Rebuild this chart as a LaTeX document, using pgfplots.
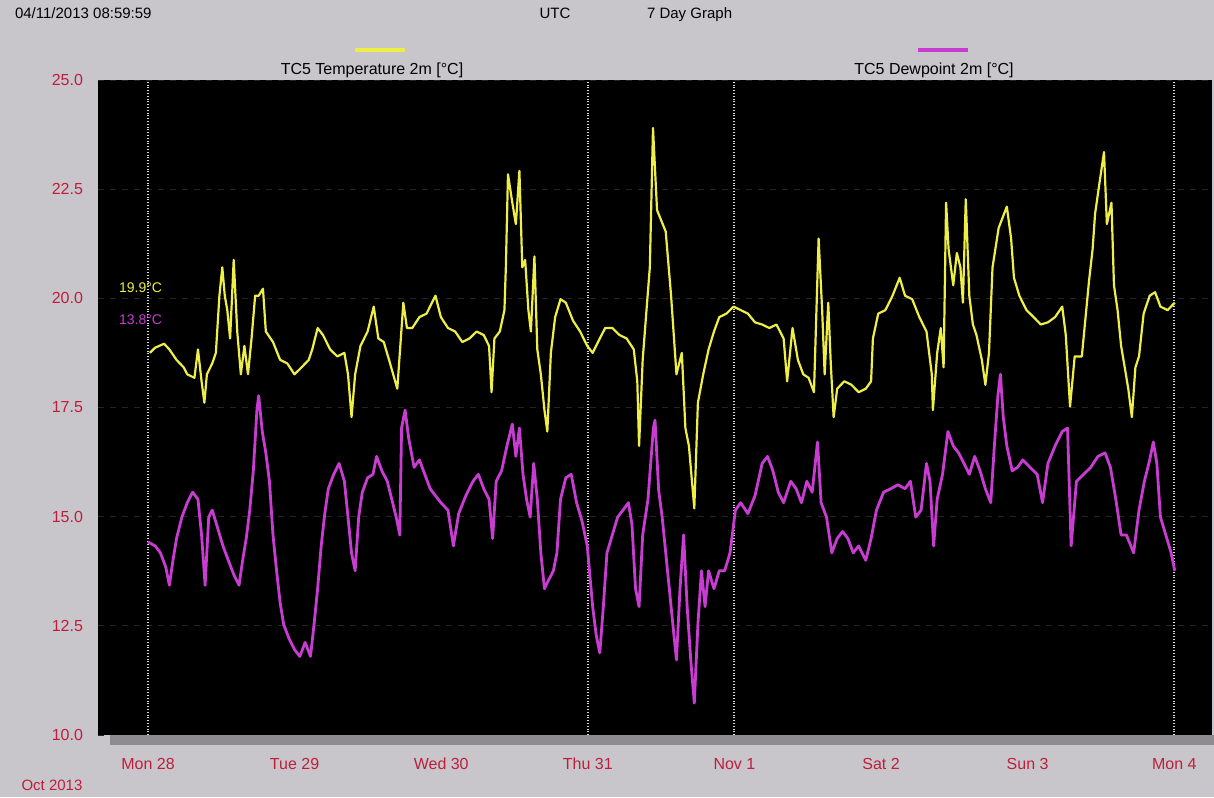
\documentclass[border=0pt]{standalone}
\usepackage{pgfplots}
\usepackage{pgfplotstable}
\pgfplotsset{compat=1.18}
\usepackage{fontspec}
\setmainfont{Liberation Sans}
\definecolor{bg}{RGB}{201,198,203}
\definecolor{tlab}{RGB}{190,30,60}
\definecolor{yel}{RGB}{238,238,70}
\definecolor{mag}{RGB}{200,60,210}
\definecolor{barg}{RGB}{140,140,145}

% hours since Mon 28 Oct 2013 00:00, temperature in C
\pgfplotstableread{
h v
0.29 18.75
1.17 18.87
2.63 18.96
3.50 18.83
4.67 18.59
5.84 18.42
6.43 18.26
7.60 18.18
8.18 18.83
8.77 18.10
9.23 17.61
9.64 18.26
10.52 18.51
11.11 18.75
11.69 20.06
12.16 20.71
12.57 20.06
12.98 19.73
13.44 19.08
14.03 20.88
14.61 19.24
15.20 18.26
15.78 18.91
16.37 18.26
16.95 19.08
17.54 20.06
18.12 20.06
18.82 20.22
19.29 19.24
20.46 19.00
21.63 18.59
22.80 18.51
23.97 18.26
25.14 18.42
26.31 18.59
26.89 18.83
27.77 19.32
28.65 19.16
29.82 18.83
30.98 18.67
32.15 18.75
32.74 18.26
33.32 17.28
33.91 18.26
34.78 18.91
35.95 19.24
36.95 19.81
37.71 19.08
38.59 19.00
39.46 18.59
40.81 17.93
41.39 19.08
41.80 19.90
42.39 19.32
43.26 19.32
44.43 19.57
45.60 19.65
47.06 20.06
47.94 19.57
49.11 19.32
50.28 19.24
51.45 19.00
52.62 19.08
53.79 19.24
54.96 19.16
55.83 18.91
56.24 17.85
56.71 19.08
57.59 19.24
58.35 19.73
58.58 20.71
58.93 22.84
59.64 22.19
60.22 21.70
60.80 22.92
61.27 20.71
61.74 20.88
62.27 19.73
62.68 19.24
63.26 20.96
63.73 18.83
64.31 18.26
64.90 17.44
65.37 16.95
65.95 18.75
66.65 19.57
67.53 19.98
68.40 19.90
69.57 19.49
70.74 19.24
71.91 18.91
72.79 18.75
73.67 19.00
74.84 19.32
76.01 19.32
77.18 19.16
78.35 19.08
79.52 18.83
80.10 18.10
80.39 16.62
80.98 18.59
81.56 19.65
82.15 20.71
82.67 23.90
83.33 22.02
84.75 21.53
85.63 20.06
86.51 18.26
87.39 18.75
87.97 17.03
88.55 16.62
89.43 15.19
90.02 17.61
90.89 18.26
91.77 18.83
92.65 19.24
93.52 19.57
94.69 19.65
95.86 19.81
97.03 19.73
98.20 19.65
99.37 19.45
100.54 19.40
101.71 19.32
102.88 19.40
104.05 19.08
104.63 18.10
105.51 19.32
106.39 18.59
107.27 18.26
108.14 18.18
109.02 17.85
109.78 21.37
110.36 19.73
110.77 18.26
111.36 19.90
111.77 18.51
112.24 17.28
112.82 17.93
113.99 18.10
115.16 18.02
116.33 17.85
117.50 17.93
118.37 18.10
118.67 19.08
119.54 19.65
120.71 19.73
121.88 20.06
123.05 20.47
123.93 20.06
125.10 19.98
126.27 19.57
127.44 19.24
128.31 18.26
128.49 17.44
129.19 18.75
129.78 19.32
130.24 18.42
130.65 22.19
131.06 21.12
131.82 20.30
132.41 21.04
132.99 20.71
133.40 19.90
133.87 22.27
134.45 20.06
135.04 19.40
135.62 19.16
136.50 18.59
137.08 18.02
137.67 18.75
138.25 20.71
139.25 21.61
140.59 22.10
141.29 21.37
141.76 20.47
142.64 20.06
143.81 19.73
144.98 19.57
146.15 19.40
147.32 19.45
148.49 19.57
149.66 19.81
150.24 19.16
150.94 17.52
151.70 18.67
152.87 18.67
154.04 20.39
154.63 21.12
155.04 21.94
155.80 22.68
156.50 23.35
156.97 21.70
157.72 22.19
158.13 20.30
158.72 19.73
159.30 18.91
159.89 18.42
160.47 17.93
161.06 17.28
161.64 18.42
162.23 18.67
162.99 19.65
163.98 20.06
164.86 20.14
165.74 19.81
166.91 19.73
168.08 19.90
}\temptable

\pgfplotstableread{
h v
0.00 14.42
1.17 14.33
2.04 14.17
2.92 13.84
3.50 13.43
4.09 14.00
4.67 14.50
5.55 14.99
6.43 15.32
7.30 15.56
8.18 15.40
8.77 14.58
9.35 13.43
9.94 14.99
10.52 15.15
11.40 14.74
12.27 14.33
13.15 14.00
14.03 13.68
14.91 13.43
15.49 14.00
16.08 14.50
16.66 15.15
17.24 16.05
17.83 17.44
18.12 17.77
18.71 16.95
19.29 16.46
19.88 15.81
20.46 14.58
21.05 13.76
21.63 13.03
22.21 12.53
23.09 12.21
23.97 11.96
24.85 11.80
25.72 12.12
26.60 11.80
27.18 12.53
27.77 13.35
28.35 14.33
28.94 15.07
29.52 15.64
30.40 15.97
31.28 16.22
32.15 15.81
32.74 14.99
33.32 14.17
33.91 13.76
34.49 14.99
35.08 15.56
35.95 15.89
36.83 15.97
37.42 16.38
38.29 16.05
39.17 15.81
39.76 15.48
40.63 14.99
41.22 14.58
41.51 17.03
42.09 17.44
42.68 16.79
43.56 16.13
44.43 16.30
45.31 15.97
46.19 15.64
47.06 15.48
47.94 15.32
49.11 15.15
49.99 14.33
50.86 15.07
52.03 15.48
53.20 15.81
54.08 15.97
54.96 15.64
55.83 15.40
56.42 14.50
57.00 15.81
57.88 16.05
58.76 16.62
59.64 17.12
60.22 16.38
60.80 17.03
61.39 15.97
61.97 15.40
62.56 14.99
63.14 16.22
63.73 15.40
64.31 14.17
64.90 13.35
65.48 13.52
66.36 13.76
66.94 14.17
67.53 15.40
68.40 15.89
69.28 15.97
70.16 15.32
71.03 14.91
71.91 14.33
72.79 12.94
73.37 12.29
73.96 11.88
74.54 12.94
75.13 14.17
76.01 14.58
76.88 14.99
77.76 15.15
78.64 15.32
79.22 14.83
79.81 13.35
80.39 12.94
80.98 14.58
81.85 15.40
82.73 17.03
83.00 17.21
83.60 15.60
84.17 14.99
85.34 13.35
85.92 12.53
86.51 11.72
87.09 13.35
87.68 14.58
88.26 12.94
88.85 11.72
89.43 10.73
90.02 12.53
90.60 13.76
91.19 12.94
91.77 13.76
92.65 13.35
93.52 13.76
94.40 13.76
95.28 14.17
96.16 15.15
97.03 15.32
98.20 15.07
99.37 15.48
100.54 16.22
101.42 16.38
102.30 16.05
103.17 15.56
104.05 15.32
105.22 15.81
106.10 15.64
106.97 15.32
107.85 15.81
108.73 15.56
109.60 16.71
110.19 15.32
111.07 14.99
111.94 14.17
112.82 14.50
113.70 14.66
114.57 14.50
115.45 14.17
116.33 14.33
117.50 14.00
118.37 14.50
119.25 15.15
120.42 15.56
121.59 15.64
122.76 15.73
123.93 15.64
124.81 15.81
125.68 14.99
126.56 15.15
127.44 16.22
128.02 15.81
128.61 14.33
129.19 15.40
130.07 15.97
130.95 16.95
131.82 16.62
132.70 16.46
133.58 16.22
134.45 15.97
135.33 16.38
136.21 16.05
137.08 15.64
137.96 15.32
138.55 16.62
139.13 17.77
139.54 18.26
140.01 17.28
140.59 16.62
141.47 16.05
142.35 16.13
143.22 16.30
144.39 16.13
145.56 15.97
146.44 15.32
147.32 16.22
148.49 16.62
149.66 16.95
150.53 17.03
151.12 14.33
151.99 15.81
153.16 15.97
154.33 16.13
155.50 16.38
156.67 16.46
157.55 16.13
158.43 15.40
159.30 14.58
160.18 14.58
161.35 14.17
162.23 15.15
163.11 15.81
163.98 16.30
164.57 16.71
165.15 16.22
165.74 14.99
166.62 14.58
167.49 14.17
168.08 13.76
}\dewtable

\begin{document}
\begin{tikzpicture}
\useasboundingbox (0,0) rectangle (607pt,398.5pt);
\fill[bg] (0,0) rectangle (607pt,398.5pt);
\begin{axis}[
  at={(49pt,31pt)}, anchor=south west,
  width=557pt, height=327.5pt, scale only axis,
  xmin=-8.185, xmax=174.18, ymin=10, ymax=25,
  axis background/.style={fill=black},
  axis line style={draw=none},
  xtick={0,24,...,168},
  xticklabels={Mon 28,Tue 29,Wed 30,Thu 31,Nov 1,Sat 2,Sun 3,Mon 4},
  ytick={10,12.5,...,25},
  yticklabels={10.0,12.5,15.0,17.5,20.0,22.5,25.0},
  major tick length=0pt, minor tick length=0pt,
  tick style={draw=none},
  ymajorgrids,
  major grid style={draw=white!14!black, dashed},
  ticklabel style={font=\fontsize{8}{9}\selectfont, text=tlab},
  xticklabel style={yshift=-8pt},
  yticklabel style={xshift=-4pt},
  extra x ticks={0,72,96,168}, extra x tick labels={},
  extra x tick style={grid=major, tick style={draw=none}, major grid style={draw=white!85!black, densely dotted, line width=1pt}},
]
\addplot[mag, line width=1.4pt, line join=round] table[x=h,y=v] {\dewtable};
\addplot[yel, line width=1.1pt, line join=round] table[x=h,y=v] {\temptable};
\end{axis}
\fill[barg] (55pt,26pt) rectangle (607pt,31pt);
% header texts
\node[anchor=base west, font=\fontsize{7.5}{9}\selectfont] at (4pt,389pt) {04/11/2013 08:59:59};
\node[anchor=base, font=\fontsize{7.5}{9}\selectfont] at (277.5pt,389pt) {UTC};
\node[anchor=base west, font=\fontsize{7.5}{9}\selectfont] at (320pt,389pt) {7 Day Graph};
% legend
\draw[yel, line width=2pt] (177.5pt,373.5pt) -- (202.5pt,373.5pt);
\node[font=\fontsize{8}{9}\selectfont] at (186pt,363.5pt) {TC5 Temperature 2m [°C]};
\draw[mag, line width=2pt] (459pt,373.5pt) -- (484pt,373.5pt);
\node[font=\fontsize{8}{9}\selectfont] at (467pt,363.5pt) {TC5 Dewpoint 2m [°C]};
% current values inside plot
\node[anchor=west, text=yel, font=\fontsize{7}{8}\selectfont] at (56pt,254.5pt) {19.9°C};
\node[anchor=west, text=mag, font=\fontsize{7}{8}\selectfont] at (56pt,238.5pt) {13.8°C};
\node[text=tlab, font=\fontsize{7.5}{9}\selectfont] at (26pt,6pt) {Oct 2013};
\end{tikzpicture}
\end{document}
